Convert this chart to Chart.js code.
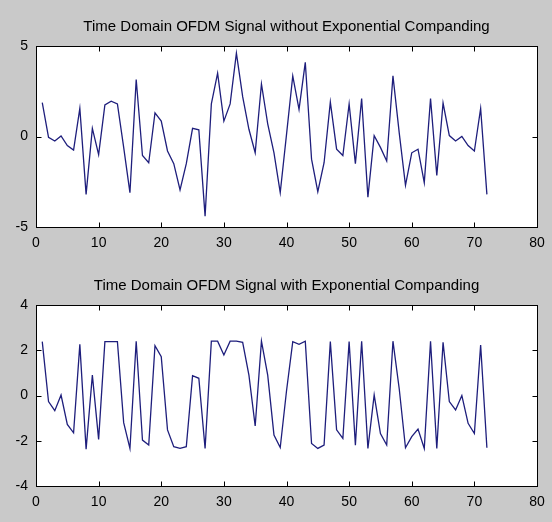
<!DOCTYPE html>
<html>
<head>
<meta charset="utf-8">
<script src="https://cdn.jsdelivr.net/npm/chart.js@4/dist/chart.umd.min.js"></script>
<style>
  html, body { margin: 0; padding: 0; background: #c9c9c9; }
  #wrap { position: relative; width: 552px; height: 522px; background: #c9c9c9; }
  .box { position: absolute; left: 0; width: 552px; height: 261px; }
</style>
</head>
<body>
<div id="wrap">
  <div class="box" style="top:0"><canvas id="top"></canvas></div>
  <div class="box" style="top:261px"><canvas id="bottom"></canvas></div>
</div>
<script>
// sample index (x axis)
var sampleIndex = [1,2,3,4,5,6,7,8,9,10,11,12,13,14,15,16,17,18,19,20,21,22,23,24,25,26,27,28,29,30,31,32,33,34,35,36,
  37,38,39,40,41,42,43,44,45,46,47,48,49,50,51,52,53,54,55,56,57,58,59,60,61,62,63,64,65,66,67,68,69,70,71,72];

// signal without companding
var withoutCompanding = [1.87,-0.05,-0.25,0.03,-0.5,-0.75,1.55,-3.2,0.45,-1.0,1.75,1.95,1.8,-0.6,-3.1,3.15,-1.05,-1.45,
  1.3,0.85,-0.8,-1.5,-2.95,-1.5,0.45,0.37,-4.4,1.8,3.5,0.85,1.8,4.6,2.2,0.4,-0.9,2.9,0.7,-0.9,-3.1,0.1,3.35,1.5,4.1,
  -1.25,-3.05,-1.45,1.9,-0.7,-1.05,1.8,-1.5,2.1,-3.35,0.05,-0.6,-1.35,3.35,0.2,-2.7,-0.9,-0.7,-2.55,2.1,-2.15,1.85,
  0.05,-0.25,0.0,-0.5,-0.8,1.55,-3.2];

// signal with exponential companding
var withCompanding = [2.38,-0.27,-0.67,0.02,-1.28,-1.65,2.26,-2.37,0.9,-1.94,2.38,2.38,2.38,-1.2,-2.34,2.4,-1.97,-2.19,
  2.2,1.72,-1.52,-2.26,-2.34,-2.26,0.88,0.76,-2.34,2.4,2.4,1.79,2.4,2.4,2.35,0.9,-1.35,2.4,0.9,-1.75,-2.3,0.2,2.38,2.26,
  2.4,-2.12,-2.34,-2.19,2.38,-1.52,-1.9,2.38,-2.2,2.4,-2.34,0.02,-1.68,-2.19,2.4,0.3,-2.31,-1.82,-1.48,-2.34,2.4,-2.34,
  2.35,-0.27,-0.64,0.0,-1.23,-1.68,2.23,-2.31];

var xTicks = [0,10,20,30,40,50,60,70,80];
var yTicksTop = [-5,0,5];
var yTicksBottom = [-4,-2,0,2,4];

var topTitle = 'Time Domain OFDM Signal without Exponential Companding';
var bottomTitle = 'Time Domain OFDM Signal with Exponential Companding';

var fontFamily = '"Liberation Sans", Arial, sans-serif';

// white axes box, inward ticks on all four sides, title above the box
var matlabAxes = {
  id: 'matlabAxes',
  beforeDraw(chart) {
    var a = chart.chartArea, ctx = chart.ctx;
    ctx.save();
    ctx.fillStyle = '#ffffff';
    ctx.fillRect(a.left, a.top, a.right - a.left, a.bottom - a.top);
    ctx.restore();
  },
  afterDraw(chart, args, opts) {
    var a = chart.chartArea, ctx = chart.ctx;
    var xs = chart.scales.x, ys = chart.scales.y;
    var L = Math.round(a.left) + 0.5, R = Math.round(a.right) + 0.5;
    var T = Math.round(a.top) + 0.5, B = Math.round(a.bottom) + 0.5;
    var len = 5;
    ctx.save();
    ctx.strokeStyle = '#000000';
    ctx.lineWidth = 1;
    ctx.beginPath();
    xs.ticks.forEach(function (t) {
      var px = Math.round(xs.getPixelForValue(t.value)) + 0.5;
      ctx.moveTo(px, B); ctx.lineTo(px, B - len);
      ctx.moveTo(px, T); ctx.lineTo(px, T + len);
    });
    ys.ticks.forEach(function (t) {
      var py = Math.round(ys.getPixelForValue(t.value)) + 0.5;
      ctx.moveTo(L, py); ctx.lineTo(L + len, py);
      ctx.moveTo(R, py); ctx.lineTo(R - len, py);
    });
    ctx.stroke();
    ctx.strokeRect(L, T, R - L, B - T);
    ctx.fillStyle = '#000000';
    ctx.font = '15px ' + fontFamily;
    ctx.textAlign = 'center';
    ctx.textBaseline = 'middle';
    ctx.fillText(opts.text, (a.left + a.right) / 2, a.top - 19);
    ctx.restore();
  }
};

function makeChart(id, values, yMin, yMax, yTickList, title, topPad, xHeight) {
  var points = sampleIndex.map(function (x, i) { return { x: x, y: values[i] }; });
  return new Chart(document.getElementById(id), {
    type: 'line',
    data: {
      datasets: [{
        data: points,
        borderColor: '#1e1e7c',
        borderWidth: 1.3,
        pointRadius: 0,
        tension: 0,
        fill: false
      }]
    },
    options: {
      responsive: true,
      maintainAspectRatio: false,
      animation: false,
      layout: { padding: { left: 0, right: 15, top: topPad, bottom: 0 } },
      plugins: {
        legend: { display: false },
        tooltip: { enabled: false },
        matlabAxes: { text: title }
      },
      scales: {
        x: {
          type: 'linear',
          min: 0,
          max: 80,
          afterBuildTicks: function (s) { s.ticks = xTicks.map(function (v) { return { value: v }; }); },
          afterFit: function (s) { s.height = xHeight; },
          grid: { display: false },
          border: { display: false },
          ticks: { color: '#000', padding: 0, maxRotation: 0, font: { family: fontFamily, size: 14 } }
        },
        y: {
          min: yMin,
          max: yMax,
          afterBuildTicks: function (s) { s.ticks = yTickList.map(function (v) { return { value: v }; }); },
          afterFit: function (s) { s.width = 36; },
          grid: { display: false },
          border: { display: false },
          ticks: { color: '#000', padding: 0, font: { family: fontFamily, size: 14 } }
        }
      }
    },
    plugins: [matlabAxes]
  });
}

makeChart('top', withoutCompanding, -5, 5, yTicksTop, topTitle, 46, 34);
makeChart('bottom', withCompanding, -4, 4, yTicksBottom, bottomTitle, 44, 36);
</script>
</body>
</html>
